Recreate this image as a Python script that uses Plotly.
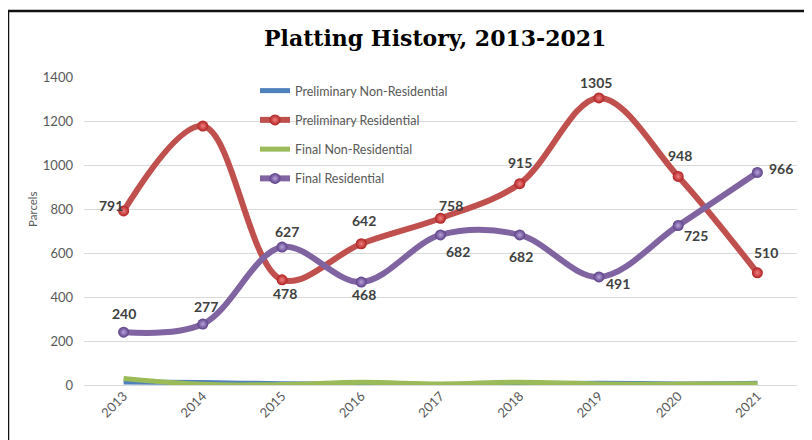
import plotly.graph_objects as go

years = ["2013", "2014", "2015", "2016", "2017", "2018", "2019", "2020", "2021"]
prelim_nonres = [14, 11, 6, 3, 2, 5, 8, 5, 8]
prelim_res = [791, 1177, 478, 642, 758, 915, 1305, 948, 510]
final_nonres = [30, 3, 2, 12, 5, 13, 5, 4, 6]
final_res = [240, 277, 627, 468, 682, 682, 491, 725, 966]
y_ticks = [0, 200, 400, 600, 800, 1000, 1200, 1400]

# label flags and pixel offsets (style only)
prelim_res_show = [True, False, True, True, True, True, True, True, True]
prelim_res_off = [(-13, 5), (0, 0), (3, -14), (3, 23), (10, 13), (0, 21), (-3, 15), (2, 21), (9, 20)]
final_res_off = [(0, 19), (3, 18), (5, 16), (3, -12), (17, -17), (1, -22), (19, -7), (18, -10), (24, 4)]

BLUE, RED, GREEN, PURPLE = "#4f81bd", "#c0504d", "#9bbb59", "#8064a2"
FONT = "Lato"
xi = list(range(len(years)))

fig = go.Figure()
fig.add_trace(go.Scatter(x=xi, y=prelim_nonres, name="Preliminary Non-Residential",
                         mode="lines", line=dict(color=BLUE, width=5, shape="spline", smoothing=1),
                         legendgroup="a"))
fig.add_trace(go.Scatter(x=xi, y=prelim_res, name="Preliminary Residential",
                         mode="lines+markers", line=dict(color=RED, width=6, shape="spline", smoothing=1),
                         marker=dict(size=11, color="#b02020", line=dict(width=0),
                                     gradient=dict(type="radial", color="#f08080")),
                         legendgroup="b"))
fig.add_trace(go.Scatter(x=xi, y=final_nonres, name="Final Non-Residential",
                         mode="lines", line=dict(color=GREEN, width=5, shape="spline", smoothing=1),
                         legendgroup="c"))
fig.add_trace(go.Scatter(x=xi, y=final_res, name="Final Residential",
                         mode="lines+markers", line=dict(color=PURPLE, width=6, shape="spline", smoothing=1),
                         marker=dict(size=11, color="#5a3e85", line=dict(width=0),
                                     gradient=dict(type="radial", color="#b9a3dc")),
                         legendgroup="d"))

LBL = dict(family=FONT, size=14, color="#404040", weight="bold")
annotations = []
for i, v, show, (dx, dy) in zip(xi, prelim_res, prelim_res_show, prelim_res_off):
    if show:
        annotations.append(dict(x=i, y=v, xref="x", yref="y", text=str(v), showarrow=False,
                                xshift=dx, yshift=dy, font=LBL))
for i, v, (dx, dy) in zip(xi, final_res, final_res_off):
    annotations.append(dict(x=i, y=v, xref="x", yref="y", text=str(v), showarrow=False,
                            xshift=dx, yshift=dy, font=LBL))

# title
annotations.append(dict(x=(435 - 84) / 713, y=(385 - 38) / 308, xref="paper", yref="paper",
                        text="<b>Platting History, 2013-2021</b>", showarrow=False,
                        xanchor="center", yanchor="middle",
                        font=dict(family="DejaVu Serif", size=22, color="#000000")))

# y-axis title
annotations.append(dict(x=(32 - 84) / 713, y=(385 - 209) / 308, xref="paper", yref="paper",
                        text="Parcels", showarrow=False, textangle=-90,
                        xanchor="center", yanchor="middle",
                        font=dict(family=FONT, size=11.5, color="#595959")))

# page body has an 8px margin; margins compensate so the plot area lands at x 84..797, y 77..385
fig.update_layout(
    width=812, height=440,
    margin=dict(l=76, r=23, t=69, b=63),
    paper_bgcolor="white", plot_bgcolor="white",
    annotations=annotations,
    showlegend=True,
    legend=dict(x=(255 - 84) / 713, y=(385 - 76) / 308, xanchor="left", yanchor="top",
                bgcolor="rgba(0,0,0,0)", font=dict(family=FONT, size=12.5, color="#595959"),
                tracegroupgap=10, traceorder="grouped", itemwidth=30),
    xaxis=dict(range=[-0.5, 8.5], tickvals=xi, ticktext=years, showgrid=False, showline=False,
               zeroline=False, tickangle=-45, ticks="",
               tickfont=dict(family=FONT, size=13, color="#595959")),
    yaxis=dict(range=[0, 1400], tickvals=y_ticks, showgrid=True, gridcolor="#d9d9d9", gridwidth=1,
               zeroline=True, zerolinecolor="#d9d9d9", zerolinewidth=1, showline=False, ticks="",
               ticklabelstandoff=10,
               tickfont=dict(family=FONT, size=13, color="#595959")),
    shapes=[dict(type="rect", xref="paper", yref="paper",
                 x0=(8 - 84) / 713, x1=(830 - 84) / 713,
                 y0=(385 - 460) / 308, y1=(385 - 11) / 308,
                 line=dict(color="#111111", width=2.5), fillcolor="rgba(0,0,0,0)", layer="below")],
)

fig.write_html("out.html")
